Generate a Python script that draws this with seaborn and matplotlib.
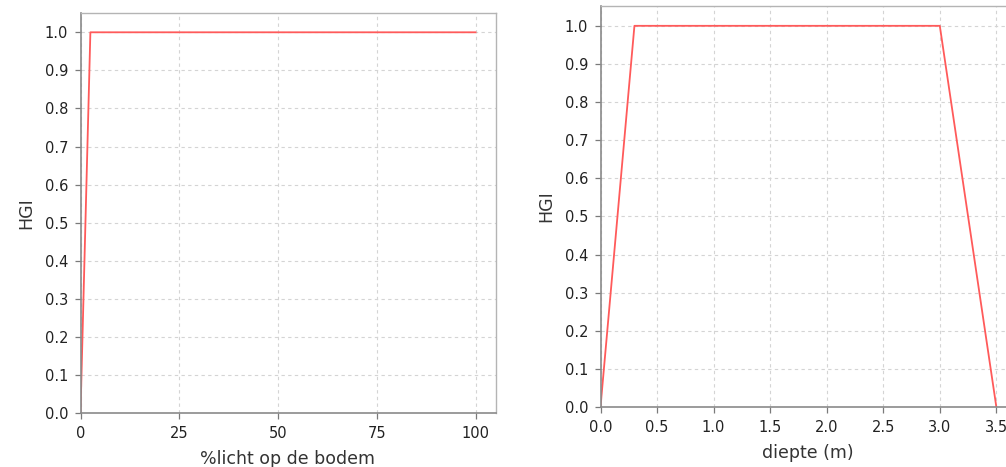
import matplotlib
matplotlib.use("Agg")
import matplotlib.pyplot as plt
import seaborn as sns
import pandas as pd

# Data
licht_x = [0, 2.5, 100]
licht_hgi = [0.0, 1.0, 1.0]
diepte_x = [0.0, 0.3, 3.0, 3.5]
diepte_hgi = [0.0, 1.0, 1.0, 0.0]
licht_ticks = [0, 25, 50, 75, 100]
diepte_ticks = [0.0, 0.5, 1.0, 1.5, 2.0, 2.5, 3.0, 3.5]
hgi_ticks = [0.0, 0.1, 0.2, 0.3, 0.4, 0.5, 0.6, 0.7, 0.8, 0.9, 1.0]

sns.set_style("white")
plt.rcParams['font.family'] = ['DejaVu Sans']

fig = plt.figure(figsize=(10.06, 4.67), dpi=100)
W, H = 1006, 467

def mk_ax(l, t, r, b):
    return fig.add_axes([l / W, 1 - b / H, (r - l) / W, (b - t) / H])

ax1 = mk_ax(80.5, 12.5, 495.5, 413)
ax2 = mk_ax(600.5, 6, 1016, 407)

line_color = "#ff5a5a"

def style(ax, xticks, xlim, xlabel, fmt):
    ax.set_facecolor("white")
    ax.set_ylim(0, 1.052)
    ax.set_xlim(*xlim)
    ax.set_yticks(hgi_ticks)
    ax.set_yticklabels([f"{v:.1f}" for v in hgi_ticks])
    ax.set_xticks(xticks)
    ax.set_xticklabels([fmt(v) for v in xticks])
    ax.grid(True, color="#d4d4d4", linestyle=(0, (3, 3)), linewidth=0.8)
    ax.set_axisbelow(True)
    for s in ["top", "right"]:
        ax.spines[s].set_color("#b4b4b4")
        ax.spines[s].set_linewidth(1.0)
    for s in ["left", "bottom"]:
        ax.spines[s].set_color("#8a8a8a")
        ax.spines[s].set_linewidth(1.2)
    ax.tick_params(axis="both", which="both", direction="out", length=4,
                   width=0.9, color="#7a7a7a", labelsize=10.5,
                   labelcolor="#222222", bottom=True, left=True,
                   top=False, right=False)
    ax.tick_params(axis="x", pad=5)
    ax.tick_params(axis="y", pad=5)
    ax.set_xlabel(xlabel, fontsize=12.5, color="#333333", labelpad=7)
    ax.set_ylabel("HGI", fontsize=12.5, color="#333333", labelpad=7)

df1 = pd.DataFrame({"x": licht_x, "HGI": licht_hgi})
df2 = pd.DataFrame({"x": diepte_x, "HGI": diepte_hgi})

sns.lineplot(data=df1, x="x", y="HGI", ax=ax1, color=line_color, linewidth=1.3,
             sort=False, estimator=None)
sns.lineplot(data=df2, x="x", y="HGI", ax=ax2, color=line_color, linewidth=1.3,
             sort=False, estimator=None)

style(ax1, licht_ticks, (0, 105), "%licht op de bodem", lambda v: f"{v:d}")
style(ax2, diepte_ticks, (0, (1016 - 600.5) / 113.1), "diepte (m)", lambda v: f"{v:.1f}")

fig.savefig("out.png", dpi=100)
